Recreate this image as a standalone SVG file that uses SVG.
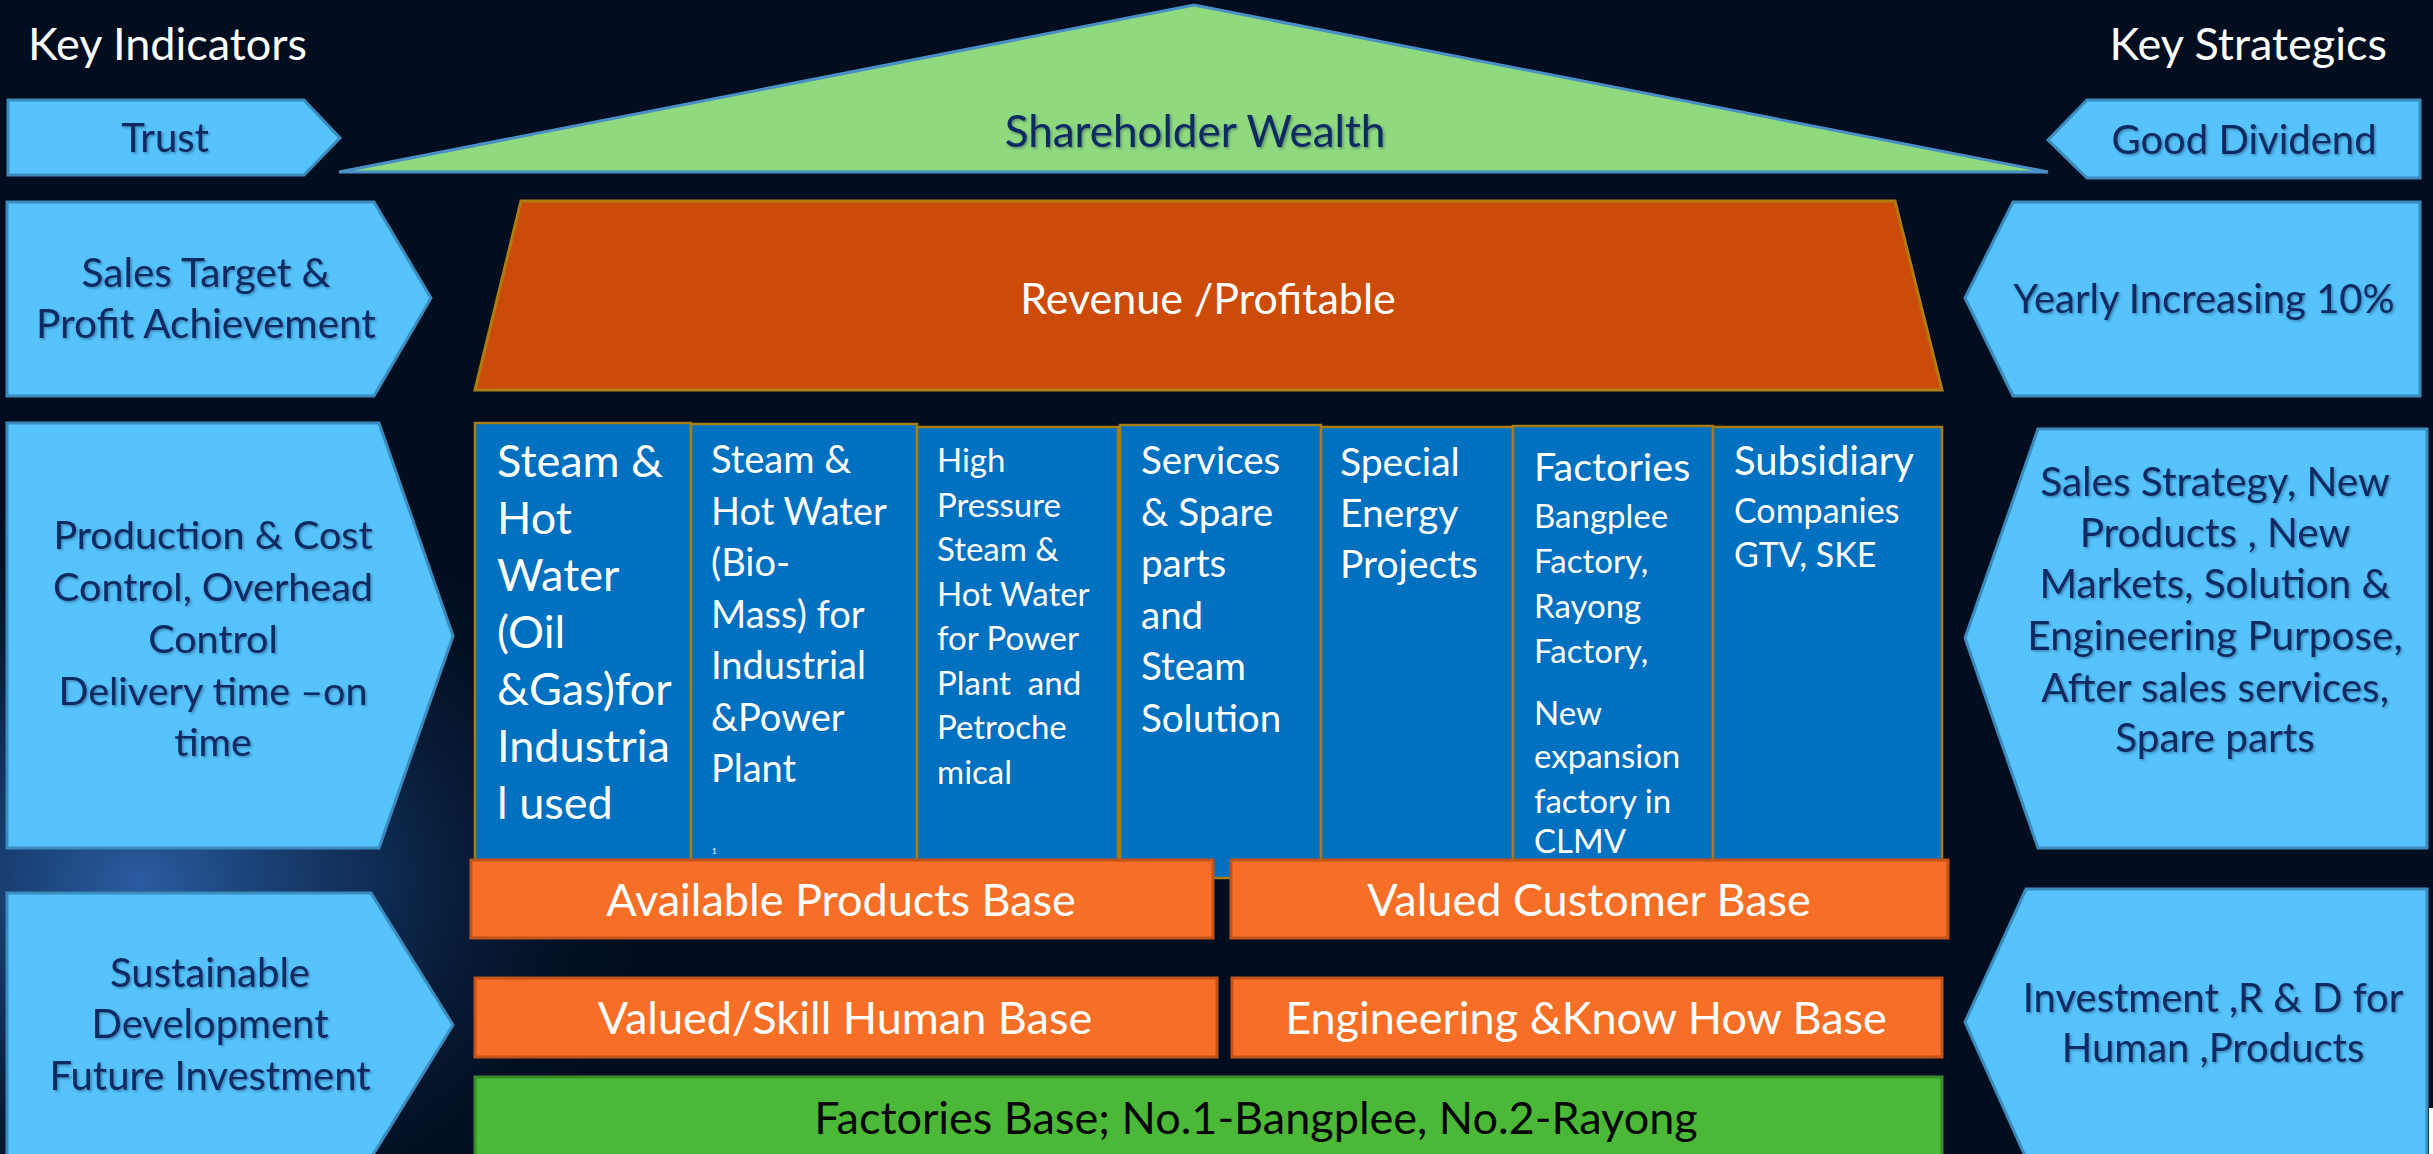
<svg xmlns="http://www.w3.org/2000/svg" width="2433" height="1154" viewBox="0 0 2433 1154">
<defs>
<radialGradient id="glow" cx="0.5" cy="0.5" r="0.5">
<stop offset="0" stop-color="#2f66b0" stop-opacity="0.9"/>
<stop offset="0.45" stop-color="#1a4680" stop-opacity="0.55"/>
<stop offset="1" stop-color="#020e20" stop-opacity="0"/>
</radialGradient>
<filter id="sh" x="-5%" y="-20%" width="110%" height="140%">
<feDropShadow dx="1.5" dy="1.5" stdDeviation="1" flood-color="#1a3050" flood-opacity="0.45"/>
</filter>
<style>
.pent{fill:#56c3fe;stroke:#3b8cbd;stroke-width:3}
.col{fill:#0070c0;stroke:#a87d12;stroke-width:2.5}
.bar{fill:#f76f26;stroke:#c2531b;stroke-width:3}
.dk{font-family:Lato,"Open Sans",sans-serif;fill:#0b2a62;filter:url(#sh)}
.wt{font-family:Lato,"Open Sans",sans-serif;fill:#ffffff}
.hd{font-family:Lato,"Open Sans",sans-serif;fill:#ffffff;font-size:45px}
.c{text-anchor:middle}
</style>
</defs>
<rect x="0" y="0" width="2433" height="1154" fill="#020e20"/>
<ellipse cx="140" cy="880" rx="520" ry="400" fill="url(#glow)"/>

<text class="hd" x="28" y="60">Key Indicators</text>
<text class="hd" x="2387" y="60" text-anchor="end">Key Strategics</text>

<g id="trust">
<polygon class="pent" points="8,100 304,100 340,138 304,175 8,175"/>
<text class="dk c" x="165" y="152" font-size="40">Trust</text>
</g>
<g id="sales-target">
<polygon class="pent" points="7,202 374,202 431,298 374,396 7,396"/>
<text class="dk c" font-size="40.5"><tspan x="206" y="287">Sales Target &amp;</tspan><tspan x="206" y="338">Profit Achievement</tspan></text>
</g>
<g id="production">
<polygon class="pent" points="7,423 379,423 453,636 379,848 7,848"/>
<text class="dk c" font-size="39.5"><tspan x="213" y="549">Production &amp; Cost</tspan><tspan x="213" y="601">Control, Overhead</tspan><tspan x="213" y="653">Control</tspan><tspan x="213" y="705">Delivery time –on</tspan><tspan x="213" y="756">time</tspan></text>
</g>
<g id="sustainable">
<polygon class="pent" points="7,893 371,893 453,1025 371,1158 7,1158"/>
<text class="dk c" font-size="40"><tspan x="210" y="987">Sustainable</tspan><tspan x="210" y="1038">Development</tspan><tspan x="210" y="1090">Future Investment</tspan></text>
</g>

<g id="shareholder-wealth">
<polygon points="339,172 1194,5 2048,172" fill="#8fd97f" stroke="#4a8fc6" stroke-width="3"/>
<text class="dk c" x="1195" y="147" font-size="44">Shareholder Wealth</text>
</g>
<g id="revenue">
<polygon points="521,201 1895,201 1942,390 475,390" fill="#cd4b09" stroke="#b07c10" stroke-width="3"/>
<text class="wt c" x="1208" y="314" font-size="43">Revenue /Profitable</text>
</g>

<g id="col-oil-gas">
<rect class="col" x="475" y="423" width="216" height="447"/>
<text class="wt" font-size="45"><tspan x="497" y="477">Steam &amp;</tspan><tspan x="497" y="534">Hot</tspan><tspan x="497" y="591">Water</tspan><tspan x="497" y="648">(Oil</tspan><tspan x="497" y="705">&amp;Gas)for</tspan><tspan x="497" y="762">Industria</tspan><tspan x="497" y="819">l used</tspan></text>
</g>
<g id="col-biomass">
<rect class="col" x="691" y="424" width="226" height="446"/>
<text class="wt" font-size="38"><tspan x="711" y="473">Steam &amp;</tspan><tspan x="711" y="524.5">Hot Water</tspan><tspan x="711" y="576">(Bio-</tspan><tspan x="711" y="627.5">Mass) for</tspan><tspan x="711" y="679">Industrial</tspan><tspan x="711" y="730.5">&amp;Power</tspan><tspan x="711" y="782">Plant</tspan></text>
<text class="wt" x="712" y="854" font-size="8">1</text>
</g>
<g id="col-high-pressure">
<rect class="col" x="917" y="427" width="201" height="443"/>
<text class="wt" font-size="33"><tspan x="937" y="472">High</tspan><tspan x="937" y="516.5">Pressure</tspan><tspan x="937" y="561">Steam &amp;</tspan><tspan x="937" y="605.5">Hot Water</tspan><tspan x="937" y="650">for Power</tspan><tspan x="937" y="694.5">Plant&#160; and</tspan><tspan x="937" y="739">Petroche</tspan><tspan x="937" y="783.5">mical</tspan></text>
</g>
<g id="col-services">
<rect class="col" x="1120" y="425" width="201" height="453"/>
<text class="wt" font-size="38.5"><tspan x="1141" y="474">Services</tspan><tspan x="1141" y="525.6">&amp; Spare</tspan><tspan x="1141" y="577.2">parts</tspan><tspan x="1141" y="628.8">and</tspan><tspan x="1141" y="680.4">Steam</tspan><tspan x="1141" y="732">Solution</tspan></text>
</g>
<g id="col-special-energy">
<rect class="col" x="1321" y="427" width="192" height="443"/>
<text class="wt" font-size="39"><tspan x="1340" y="476">Special</tspan><tspan x="1340" y="527">Energy</tspan><tspan x="1340" y="578">Projects</tspan></text>
</g>
<g id="col-factories">
<rect class="col" x="1513" y="426" width="200" height="444"/>
<text class="wt" x="1534" y="481" font-size="39.5">Factories</text>
<text class="wt" font-size="33"><tspan x="1534" y="528">Bangplee</tspan><tspan x="1534" y="573">Factory,</tspan><tspan x="1534" y="618">Rayong</tspan><tspan x="1534" y="663">Factory,</tspan><tspan x="1534" y="725">New</tspan><tspan x="1534" y="768">expansion</tspan><tspan x="1534" y="813">factory in</tspan><tspan x="1534" y="853">CLMV</tspan></text>
</g>
<g id="col-subsidiary">
<rect class="col" x="1713" y="427" width="229" height="443"/>
<text class="wt" x="1734" y="475" font-size="40">Subsidiary</text>
<text class="wt" font-size="34"><tspan x="1734" y="523">Companies</tspan><tspan x="1734" y="567">GTV, SKE</tspan></text>
</g>

<g id="available-products">
<rect class="bar" x="471" y="860" width="742" height="78"/>
<text class="wt c" x="841" y="916" font-size="45">Available Products Base</text>
</g>
<g id="valued-customer">
<rect class="bar" x="1231" y="860" width="717" height="78"/>
<text class="wt c" x="1589" y="916" font-size="45">Valued Customer Base</text>
</g>
<g id="human-base">
<rect class="bar" x="475" y="978" width="742" height="79"/>
<text class="wt c" x="845" y="1034" font-size="45">Valued/Skill Human Base</text>
</g>
<g id="engineering-base">
<rect class="bar" x="1232" y="978" width="710" height="79"/>
<text class="wt c" x="1586" y="1034" font-size="45">Engineering &amp;Know How Base</text>
</g>
<g id="factories-base">
<rect x="475" y="1077" width="1467" height="90" fill="#4cb837" stroke="#3a8c2b" stroke-width="3"/>
<text x="1256" y="1134" font-size="45" text-anchor="middle" font-family="Lato, 'Open Sans', sans-serif" fill="#050505">Factories Base; No.1-Bangplee, No.2-Rayong</text>
</g>

<g id="good-dividend">
<polygon class="pent" points="2048,140 2087,100 2420,100 2420,178 2087,178"/>
<text class="dk c" x="2244" y="154" font-size="40">Good Dividend</text>
</g>
<g id="yearly">
<polygon class="pent" points="1965,298 2013,202 2420,202 2420,396 2013,396"/>
<text class="dk c" x="2204" y="313" font-size="40">Yearly Increasing 10%</text>
</g>
<g id="sales-strategy">
<polygon class="pent" points="1965,638 2038,429 2427,429 2427,848 2038,848"/>
<text class="dk c" font-size="40.5"><tspan x="2215" y="496">Sales Strategy, New</tspan><tspan x="2215" y="547">Products , New</tspan><tspan x="2215" y="598">Markets, Solution &amp;</tspan><tspan x="2215" y="650">Engineering Purpose,</tspan><tspan x="2215" y="702">After sales services,</tspan><tspan x="2215" y="752">Spare parts</tspan></text>
</g>
<g id="investment">
<polygon class="pent" points="1965,1022 2026,889 2427,889 2427,1158 2026,1158"/>
<text class="dk c" font-size="40"><tspan x="2213" y="1012">Investment ,R &amp; D for</tspan><tspan x="2213" y="1062">Human ,Products</tspan></text>
</g>
<rect x="2429" y="1108" width="4" height="46" fill="#ffffff"/>
<g id="connectors"/>
</svg>
